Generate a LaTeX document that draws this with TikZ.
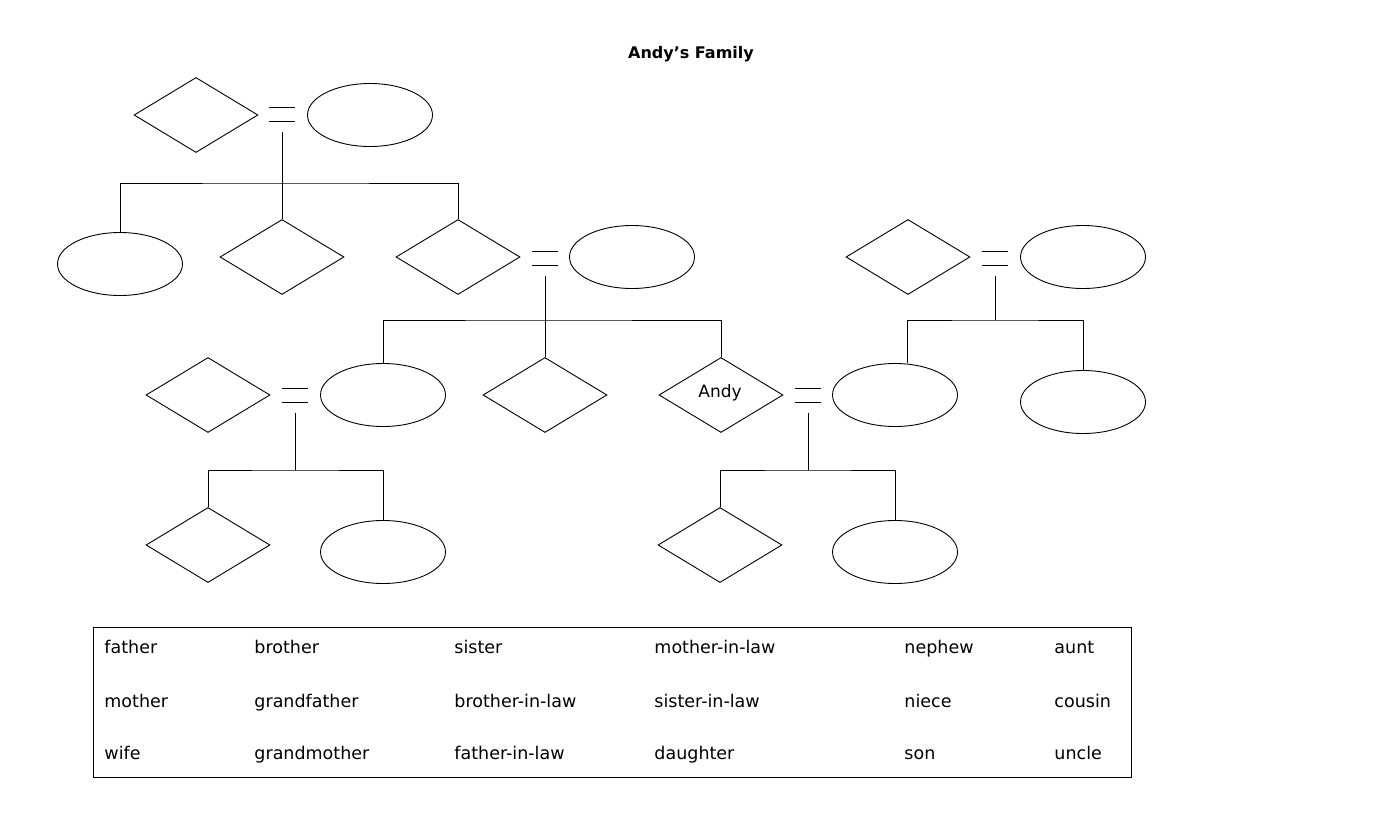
\documentclass[tikz,border=0pt]{standalone}
\usepackage{fontspec}
\setmainfont{DejaVu Sans}
\usetikzlibrary{shapes.geometric}

\begin{document}
\begin{tikzpicture}[
    x=1pt, y=-1pt, line width=0.9pt,
    % Estilos: rombo para los hombres, elipse para las mujeres
    hombre/.style={diamond, draw, minimum width=124pt, minimum height=75pt, inner sep=0pt,
      font=\fontsize{17}{19}\selectfont},
    mujer/.style={ellipse, draw, minimum width=125pt, minimum height=63pt, inner sep=0pt},
    igual/.style={minimum width=26pt, minimum height=13pt, inner sep=0pt},
    palabra/.style={anchor=base west, inner sep=0pt, font=\fontsize{17.5}{19}\selectfont}
  ]
  \useasboundingbox (0,0) rectangle (1389,838);

  % Titulo
  \node[font=\bfseries\fontsize{16}{18}\selectfont] (titulo) at (691,54) {Andy’s Family};

  % 1. Abuelos
  \node[hombre] (d1) at (196,115) {};
  \node[igual]  (eq1) at (282,114) {};
  \node[mujer]  (e1) at (370,115) {};

  % 2. Hijos de los abuelos
  \node[mujer]  (e2) at (120,264) {};
  \node[hombre] (d2) at (282,257) {};
  \node[hombre] (d3) at (458,257) {};
  \node[igual]  (eq2) at (545,258) {};
  \node[mujer]  (e3) at (632,257) {};

  % Suegros de Andy
  \node[hombre] (d4) at (908,257) {};
  \node[igual]  (eq3) at (995,258) {};
  \node[mujer]  (e4) at (1083,257) {};

  % 3. Generacion de Andy
  \node[hombre] (d5) at (208,395) {};
  \node[igual]  (eq4) at (295,395) {};
  \node[mujer]  (e5) at (383,395) {};
  \node[hombre] (d6) at (545,395) {};
  \node[hombre] (andy) at (721,395) {};
  \node[font=\fontsize{17}{19}\selectfont, anchor=base] (nombre) at (720,397) {Andy};
  \node[igual]  (eq5) at (808,395) {};
  \node[mujer]  (e7) at (895,395) {};
  \node[mujer]  (e8) at (1083,402) {};

  % 4. Hijos
  \node[hombre] (d7) at (208,545) {};
  \node[mujer]  (e9) at (383,552) {};
  \node[hombre] (d8) at (720,545) {};
  \node[mujer]  (e10) at (895,552) {};

  % Signos de igual (matrimonios)
  \foreach \e in {eq1,eq2,eq3,eq4,eq5}
    \draw (\e.north west) -- (\e.north east) (\e.south west) -- (\e.south east);

  % Puntos de union de cada familia
  \coordinate (j1) at (282,183);
  \coordinate (j2) at (545,320);
  \coordinate (j3) at (995,320);
  \coordinate (j4) at (295,470);
  \coordinate (j5) at (808,470);

  % Conexiones
  \draw ([yshift=-11pt]eq1.south) -- (j1);
  \draw (e2) |- (j1) -| (d3);
  \draw (j1) -- (d2);

  \draw ([yshift=-11pt]eq2.south) -- (j2);
  \draw (e5) |- (j2) -| (andy);
  \draw (j2) -- (d6);

  \draw ([yshift=-11pt]eq3.south) -- (j3);
  \draw ([xshift=12pt]e7.north) |- (j3) -| (e8);

  \draw ([yshift=-11pt]eq4.south) -- (j4);
  \draw (d7) |- (j4) -| (e9);

  \draw ([yshift=-11pt]eq5.south) -- (j5);
  \draw (d8) |- (j5) -| (e10);

  % 5. Caja de palabras
  \node[draw, minimum width=1038pt, minimum height=150pt, inner sep=0pt] (caja) at (612,702) {};
  \foreach \x/\a/\b/\c [count=\i] in {104/father/mother/wife,
      254/brother/grandfather/grandmother,
      454/sister/brother-in-law/father-in-law,
      654/mother-in-law/sister-in-law/daughter,
      904/nephew/niece/son,
      1054/aunt/cousin/uncle}
  {
    \node[palabra] (p\i a) at (\x,653) {\a};
    \node[palabra] (p\i b) at (\x,707) {\b};
    \node[palabra] (p\i c) at (\x,759) {\c};
  }

\end{tikzpicture}
\end{document}
